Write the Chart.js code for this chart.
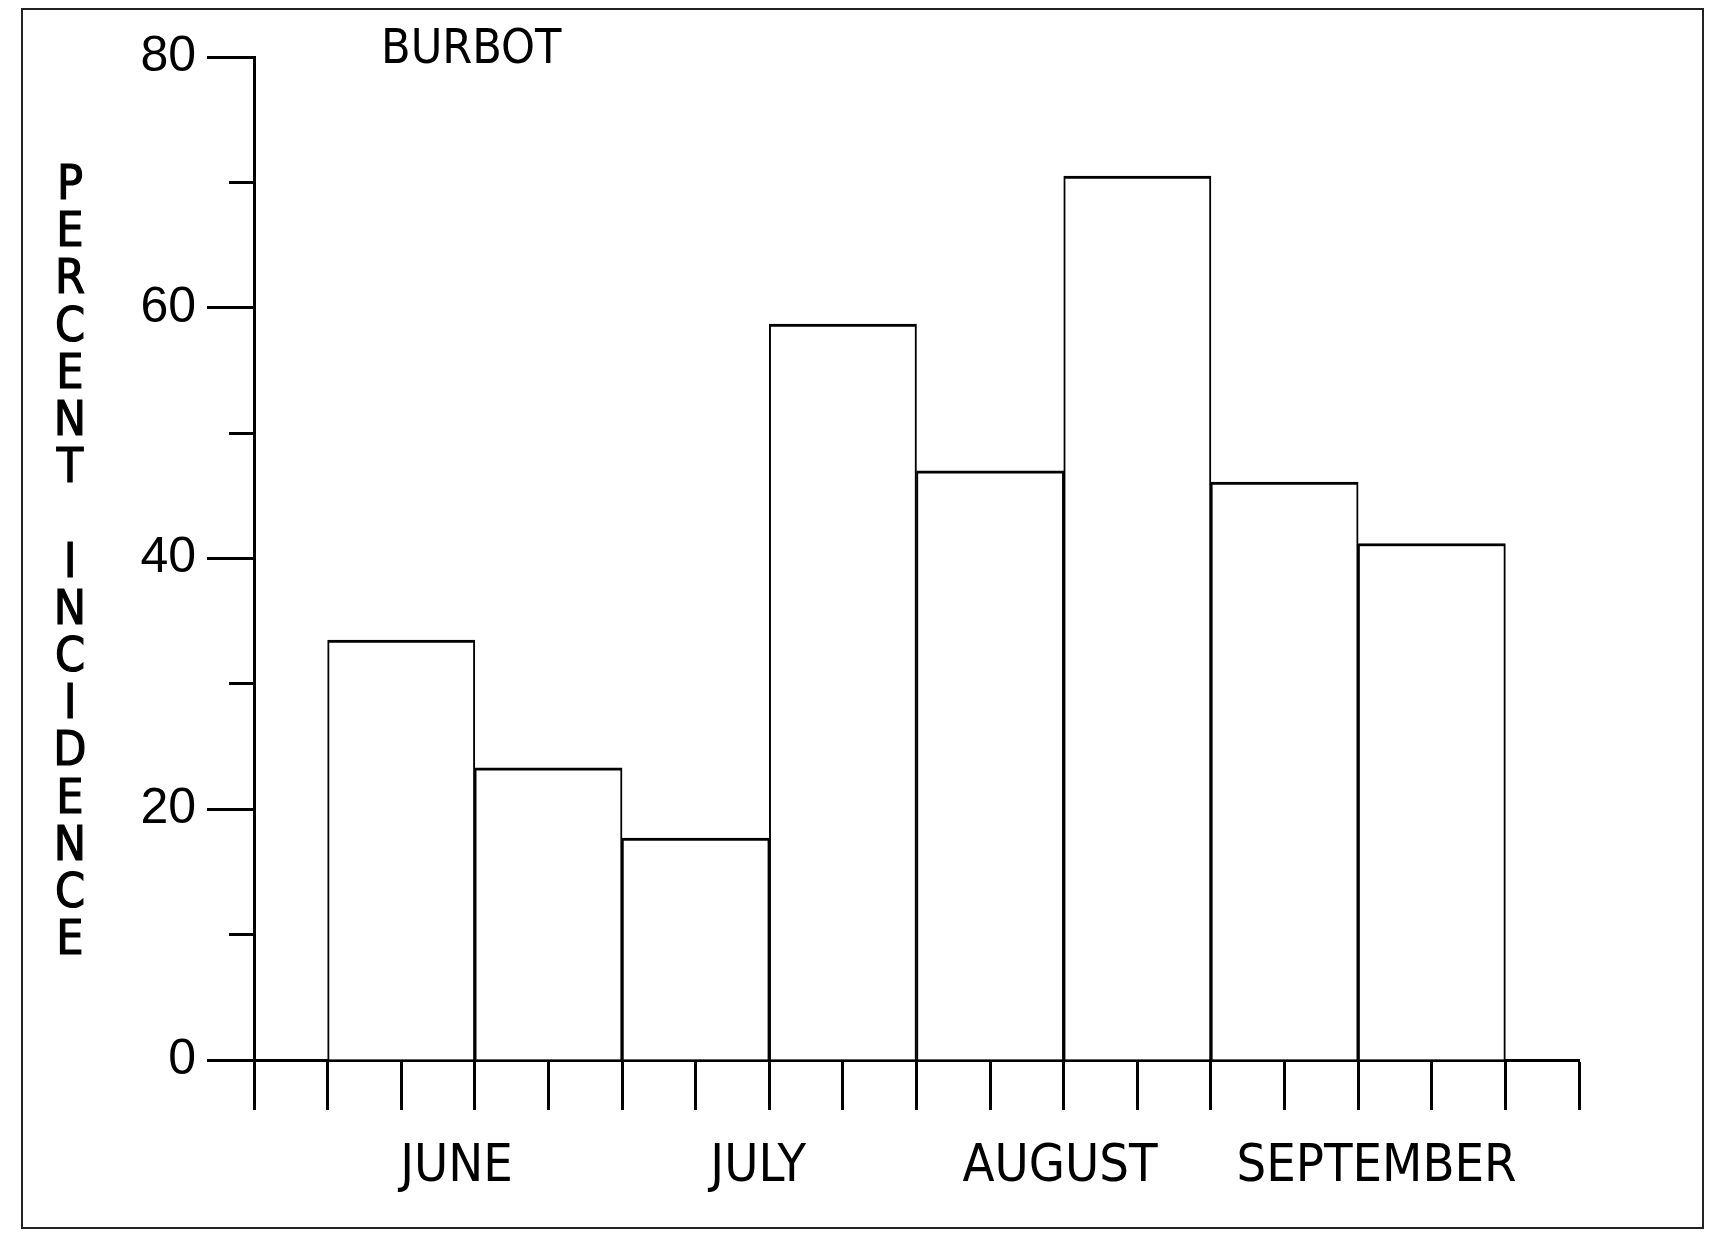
<!DOCTYPE html>
<html>
<head>
<meta charset="utf-8">
<title>Burbot</title>
<script src="https://cdn.jsdelivr.net/npm/chart.js@4"></script>
<style>
  html, body { margin: 0; padding: 0; background: #fff; }
  #wrap { position: relative; width: 1723px; height: 1235px; }
</style>
</head>
<body>
<div id="wrap"><canvas id="chart"></canvas></div>
<script>
// data
const months = ['JUNE', 'JULY', 'AUGUST', 'SEPTEMBER'];
const monthLabelAt = [2.75, 6.85, 10.95, 15.25];
const barCenters = [2, 4, 6, 8, 10, 12, 14, 16];
const incidence = [33.5, 23.3, 17.7, 58.7, 47.0, 70.5, 46.1, 41.2];
const yMax = 80;
const yLabelStep = 20;
const yMinorStep = 10;
const xMax = 18;
const chartTitle = 'BURBOT';
const yTitle = 'PERCENT INCIDENCE';

const FONT = "'Liberation Sans Narrow', 'DejaVu Sans Condensed', 'Liberation Sans', sans-serif";
const INK = '#000';

// frame, title and the stacked y title
const textPlugin = {
  id: 'plotText',
  afterDraw(chart) {
    const ctx = chart.ctx;
    ctx.save();
    ctx.strokeStyle = '#222';
    ctx.lineWidth = 2;
    ctx.strokeRect(22, 9, 1681, 1219);

    ctx.fillStyle = INK;
    ctx.textBaseline = 'alphabetic';
    ctx.textAlign = 'left';
    ctx.font = '48px ' + FONT;
    ctx.fillText(chartTitle, chart.chartArea.left + 127, 63);

    ctx.textAlign = 'center';
    ctx.font = '48px ' + FONT;
    ctx.lineWidth = 1.2;
    ctx.strokeStyle = INK;
    yTitle.split('').forEach((c, i) => {
      ctx.fillText(c, 70, 199 + i * 47.2);
      ctx.strokeText(c, 70, 199 + i * 47.2);
    });
    ctx.restore();
  }
};

new Chart(document.getElementById('chart'), {
  type: 'bar',
  data: {
    datasets: [{
      data: barCenters.map((x, i) => ({ x, y: incidence[i] })),
      backgroundColor: '#fff',
      borderColor: INK,
      borderWidth: { top: 3, left: 2, right: 2, bottom: 0 },
      barThickness: 'flex',
      categoryPercentage: 1,
      barPercentage: 1,
      xAxisID: 'x',
      yAxisID: 'y',
    }],
  },
  plugins: [textPlugin],
  options: {
    responsive: true,
    maintainAspectRatio: false,
    animation: false,
    devicePixelRatio: 1,
    layout: {
      padding: { left: 100, right: 144, top: 57, bottom: 10 },
    },
    plugins: {
      legend: { display: false },
      tooltip: { enabled: false },
    },
    scales: {
      x: {
        type: 'linear',
        position: 'bottom',
        offset: false,
        weight: 0,
        min: 0,
        max: xMax,
        ticks: { stepSize: 1, maxTicksLimit: 100, display: false },
        grid: { offset: false, drawOnChartArea: false, tickLength: 50, tickWidth: 3, tickColor: INK },
        border: { color: INK, width: 3 },
        afterFit(s) { s.height = 50; },
      },
      months: {
        type: 'linear',
        position: 'bottom',
        offset: false,
        weight: 1,
        min: 0,
        max: xMax,
        afterBuildTicks(s) { s.ticks = monthLabelAt.map(v => ({ value: v })); },
        ticks: {
          autoSkip: false,
          maxRotation: 0,
          padding: 26,
          color: INK,
          font: { family: FONT, size: 52 },
          callback: (v, i) => months[i],
        },
        grid: { display: false, drawTicks: false },
        border: { display: false },
        afterFit(s) { s.height = 115; },
      },
      y: {
        position: 'left',
        weight: 1,
        min: 0,
        max: yMax,
        ticks: {
          stepSize: yLabelStep,
          padding: 11,
          color: INK,
          font: { family: "'Liberation Sans', sans-serif", size: 50 },
        },
        grid: { drawOnChartArea: false, tickLength: 47, tickWidth: 3, tickColor: INK },
        border: { color: INK, width: 3 },
        afterFit(s) { s.width = 154; },
      },
      yMinor: {
        position: 'left',
        weight: 0,
        min: 0,
        max: yMax,
        ticks: { stepSize: yMinorStep, display: false },
        grid: { drawOnChartArea: false, tickLength: 25, tickWidth: 3, tickColor: INK },
        border: { display: false },
        afterFit(s) { s.width = 0; },
      },
    },
  },
});
</script>
</body>
</html>
